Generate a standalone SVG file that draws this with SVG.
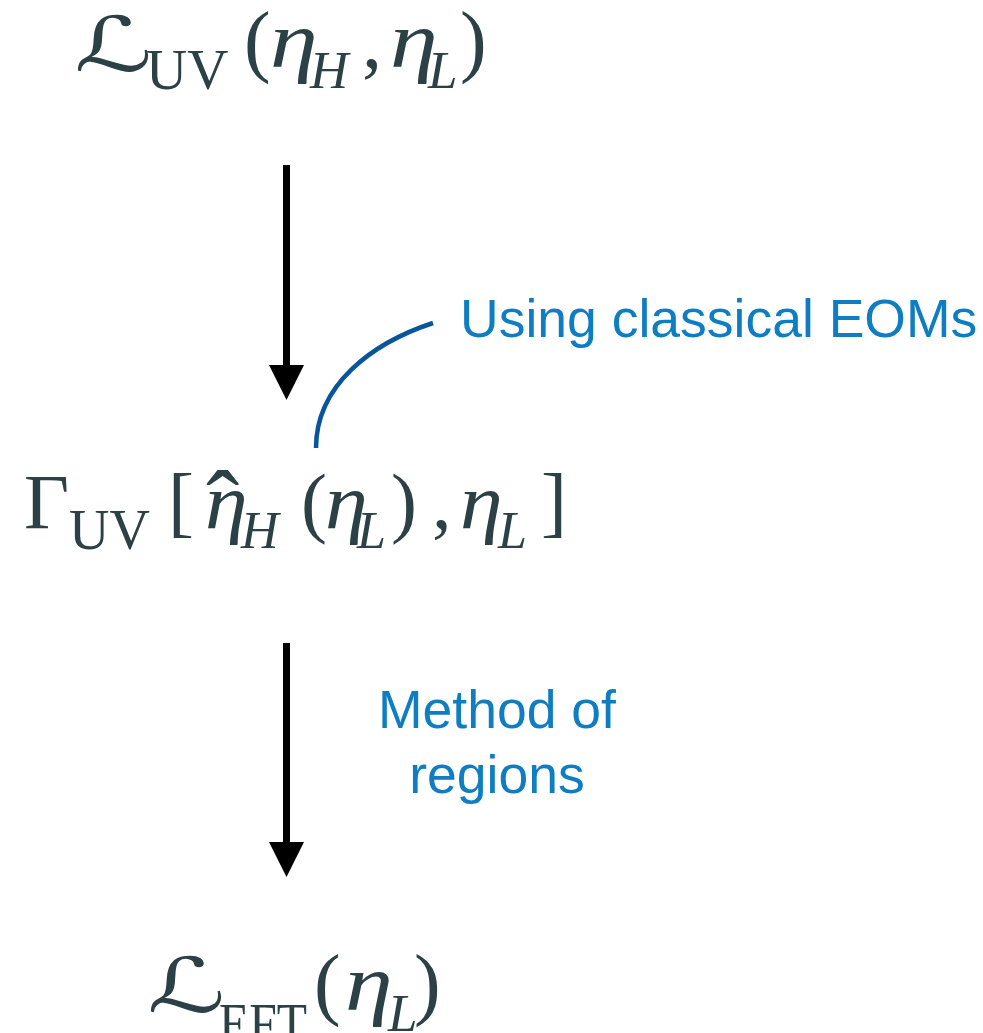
<svg xmlns="http://www.w3.org/2000/svg" width="983" height="1033" viewBox="0 0 983 1033">
<style>
.m{font-family:"Liberation Serif","Times New Roman",serif;fill:#2b4146}
.i{font-style:italic}
.s{font-family:"DejaVu Serif","DejaVu Sans",serif;fill:#2b4146;font-size:80px}
.b{font-family:"Liberation Sans",Arial,sans-serif;fill:#0f7dc2;font-size:53.5px}
.sh{stroke:#000;stroke-width:7;fill:none}
.hd{fill:#000}
</style>
<rect width="983" height="1033" fill="#fff"/>
<g id="node-luv">
<text class="s" transform="translate(74,71) scale(1.36,0.95)">ℒ</text>
<text class="m" x="146" y="89" font-size="57">UV</text>
<text class="m" x="244" y="67" font-size="80">(</text>
<text class="m i" transform="translate(270,67) scale(1.2,1)" font-size="80">η</text>
<text class="m i" x="310" y="88" font-size="53">H</text>
<text class="m" x="362" y="67" font-size="80">,</text>
<text class="m i" transform="translate(390,67) scale(1.2,1)" font-size="80">η</text>
<text class="m i" x="428" y="88" font-size="53">L</text>
<text class="m" x="460" y="67" font-size="80">)</text>
</g>
<g id="node-gamma">
<text class="m" x="24" y="528" font-size="78">Γ</text>
<text class="m" x="69" y="549" font-size="56">UV</text>
<text class="m" x="168" y="528" font-size="78">[</text>
<text class="m i" transform="translate(205,528) scale(1.1,1)" font-size="78">η</text>
<text class="m" x="206" y="540" font-size="100">ˆ</text>
<text class="m i" x="241" y="548" font-size="52">H</text>
<text class="m" x="301" y="528" font-size="78">(</text>
<text class="m i" transform="translate(325,528) scale(1.1,1)" font-size="78">η</text>
<text class="m i" x="357" y="548" font-size="52">L</text>
<text class="m" x="391" y="528" font-size="78">)</text>
<text class="m" x="432" y="528" font-size="78">,</text>
<text class="m i" transform="translate(460,528) scale(1.1,1)" font-size="78">η</text>
<text class="m i" x="498" y="548" font-size="52">L</text>
<text class="m" x="541" y="528" font-size="78">]</text>
</g>
<g id="node-left">
<text class="s" transform="translate(147,1012) scale(1.36,0.95)">ℒ</text>
<text class="m" x="219" y="1043" font-size="57" textLength="88" lengthAdjust="spacingAndGlyphs">EFT</text>
<text class="m" x="314" y="1010" font-size="80">(</text>
<text class="m i" transform="translate(345,1010) scale(1.2,1)" font-size="80">η</text>
<text class="m i" x="388" y="1031" font-size="53">L</text>
<text class="m" x="414" y="1010" font-size="80">)</text>
</g>
<g id="label-eom">
<text class="b" x="460" y="337">Using classical EOMs</text>
</g>
<g id="label-mor">
<text class="b" x="497" y="728" text-anchor="middle">Method of</text>
<text class="b" x="497" y="793" text-anchor="middle">regions</text>
</g>
<g id="connectors">
<line class="sh" x1="286.5" y1="165" x2="286.5" y2="368"/>
<polygon class="hd" points="269,365 304,365 286.5,400"/>
<line class="sh" x1="286.5" y1="643" x2="286.5" y2="845"/>
<polygon class="hd" points="269,842 304,842 286.5,877"/>
<path d="M433,323 C372,343 316,385 316,448" fill="none" stroke="#08559b" stroke-width="4.5"/>
</g>
</svg>
